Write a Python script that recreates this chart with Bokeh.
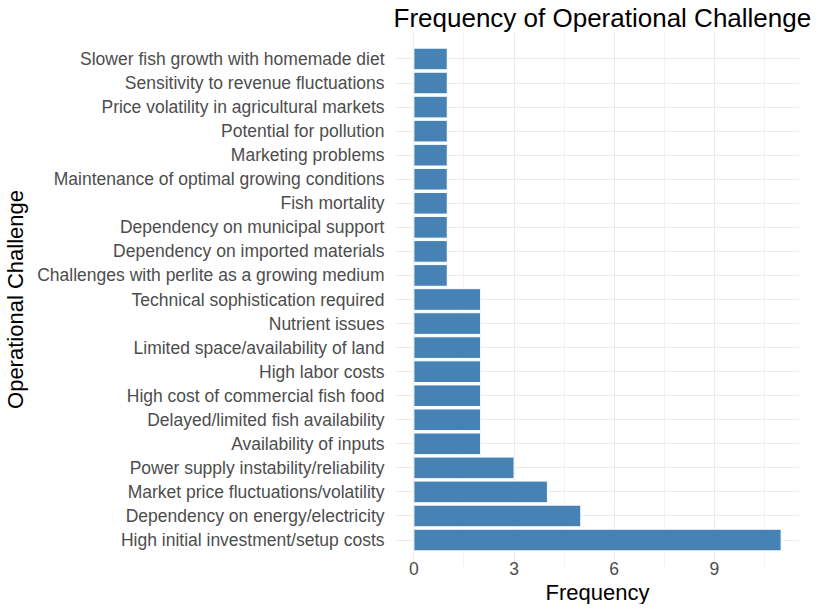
from bokeh.plotting import figure
from bokeh.models import ColumnDataSource, FactorRange, Range1d, FixedTicker, Title
from bokeh.embed import file_html
from bokeh.resources import INLINE

# Data (top to bottom as displayed)
challenges = [
    "Slower fish growth with homemade diet",
    "Sensitivity to revenue fluctuations",
    "Price volatility in agricultural markets",
    "Potential for pollution",
    "Marketing problems",
    "Maintenance of optimal growing conditions",
    "Fish mortality",
    "Dependency on municipal support",
    "Dependency on imported materials",
    "Challenges with perlite as a growing medium",
    "Technical sophistication required",
    "Nutrient issues",
    "Limited space/availability of land",
    "High labor costs",
    "High cost of commercial fish food",
    "Delayed/limited fish availability",
    "Availability of inputs",
    "Power supply instability/reliability",
    "Market price fluctuations/volatility",
    "Dependency on energy/electricity",
    "High initial investment/setup costs",
]
frequency = [1, 1, 1, 1, 1, 1, 1, 1, 1, 1, 2, 2, 2, 2, 2, 2, 2, 3, 4, 5, 11]
x_ticks = [0, 3, 6, 9]
x_minor = [1.5, 4.5, 7.5, 10.5]

factors = challenges[::-1]
vals = frequency[::-1]
src = ColumnDataSource(dict(cat=factors, freq=vals))

FONT = "Liberation Sans"

p = figure(
    width=811, height=604,
    y_range=FactorRange(*factors, range_padding=0.6, range_padding_units="absolute"),
    x_range=Range1d(-0.55, 11.55),
    output_backend="svg", toolbar_location=None,
    title="Frequency of Operational Challenges",
    min_border_left=10, min_border_right=12, min_border_top=2, min_border_bottom=0,
)

p.hbar(y="cat", right="freq", left=0, height=0.9, source=src,
       fill_color="#4682B4", line_color="white", line_width=1)

p.background_fill_color = "white"
p.border_fill_color = "white"
p.outline_line_color = None

p.title.text_font = FONT
p.title.text_font_size = "26px"
p.title.text_font_style = "normal"
p.title.text_color = "black"
p.title.align = "left"
p.title.offset = -2
p.title.standoff = 0

p.xaxis.ticker = FixedTicker(ticks=x_ticks, minor_ticks=x_minor)
p.yaxis.axis_label = "Operational Challenge"
for ax in (p.xaxis, p.yaxis):
    ax.axis_line_color = None
    ax.major_tick_line_color = None
    ax.minor_tick_line_color = None
    ax.major_tick_out = 0
    ax.major_tick_in = 0
    ax.minor_tick_out = 0
    ax.major_label_text_font = FONT
    ax.major_label_text_font_size = "17.5px"
    ax.major_label_text_color = "#4D4D4D"
    ax.axis_label_text_font = FONT
    ax.axis_label_text_font_size = "22px"
    ax.axis_label_text_font_style = "normal"
    ax.axis_label_text_color = "black"

p.xaxis.major_label_standoff = -5
p.yaxis.major_label_standoff = 11
p.yaxis.axis_label_standoff = 6

# x-axis title as a centred title below the axis
p.add_layout(Title(text="Frequency", align="center", text_font=FONT,
                   text_font_size="22px", text_font_style="normal",
                   text_color="black", standoff=0), "below")

p.xgrid.grid_line_color = "#EBEBEB"
p.xgrid.grid_line_width = 1.1
p.xgrid.minor_grid_line_color = "#EBEBEB"
p.xgrid.minor_grid_line_width = 0.6
p.ygrid.grid_line_color = "#EBEBEB"
p.ygrid.grid_line_width = 1.1

open("out.html", "w").write(file_html(p, INLINE))
